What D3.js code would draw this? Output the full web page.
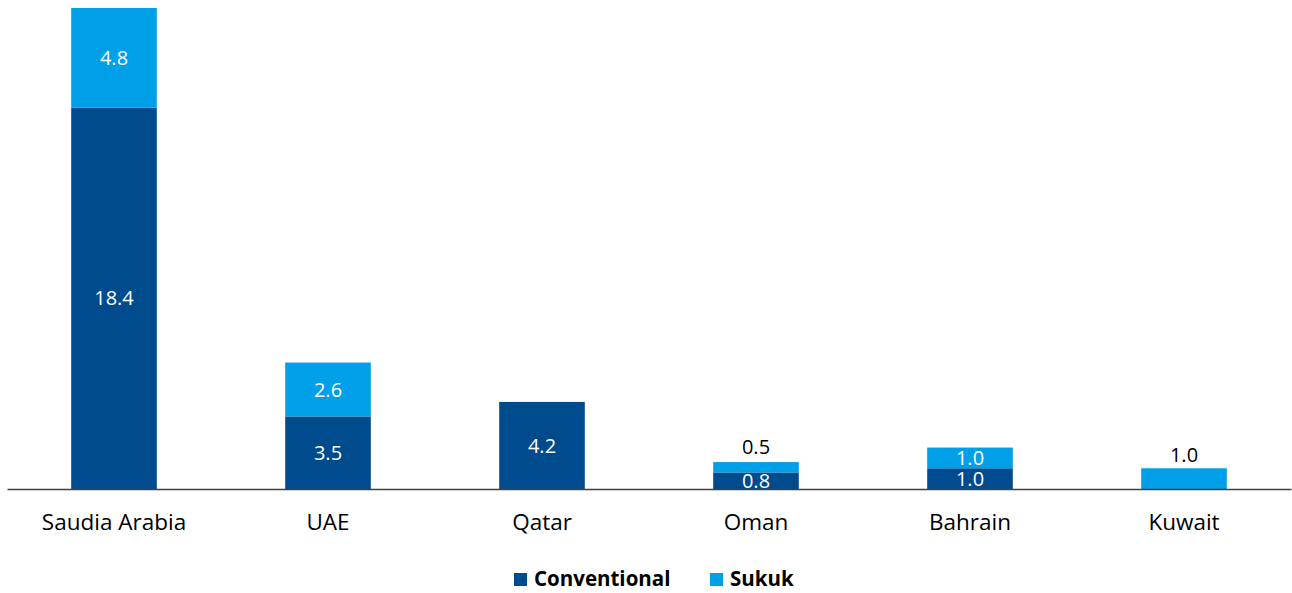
<!DOCTYPE html>
<html><head><meta charset="utf-8">
<script src="https://cdn.jsdelivr.net/npm/d3@7"></script>
<style>body{margin:0;background:#fff}svg{display:block}text{font-family:"Open Sans",sans-serif}</style>
</head><body><svg id="c" width="1292" height="593"></svg>
<script>
const categories = ["Saudia Arabia","UAE","Qatar","Oman","Bahrain","Kuwait"];
const conventional = [18.4, 3.5, 4.2, 0.8, 1.0, 0];
const sukuk = [4.8, 2.6, 0, 0.5, 1.0, 1.0];
const seriesNames = ["Conventional","Sukuk"];
const colors = ["#004B8D","#00A0E9"];

const svg = d3.select("#c");
const x = d3.scaleBand().domain(categories).range([7,1291]).paddingInner(0.6).paddingOuter(0.3);
const y = d3.scaleLinear().domain([0,23.2]).range([489,8]);

const data = categories.map((c,i)=>({cat:c, Conventional:conventional[i], Sukuk:sukuk[i]}));
const stack = d3.stack().keys(seriesNames)(data);

stack.forEach((layer,li)=>{
  svg.append("g").selectAll("rect").data(layer.filter(d=>d[1]-d[0]>0)).join("rect")
    .attr("x",d=>x(d.data.cat)).attr("width",x.bandwidth())
    .attr("y",d=>y(d[1])).attr("height",d=>y(d[0])-y(d[1]))
    .attr("fill",colors[li]);
});

stack.forEach((layer,li)=>{
  layer.forEach(d=>{
    const v = d[1]-d[0];
    if(v<=0) return;
    const h = y(d[0])-y(d[1]);
    let ty, col;
    if(h>=14){ ty=(y(d[0])+y(d[1]))/2; col="#fff"; }
    else { ty=y(d[1])-15; col="#000"; }
    if(d.data.cat==="Kuwait"){ ty=y(d[1])-13; col="#000"; }
    svg.append("text").attr("x",x(d.data.cat)+x.bandwidth()/2).attr("y",ty)
      .attr("dy","0.36em").attr("text-anchor","middle").attr("fill",col)
      .attr("font-size",20).text(v.toFixed(1));
  });
});

const ax = svg.append("g").attr("transform","translate(0,489)").call(d3.axisBottom(x).tickSize(0).tickPadding(25));
ax.select(".domain").attr("stroke","#404040").attr("stroke-width",1.5);
ax.selectAll("text").attr("font-size",22.5).attr("fill","#000").style("font-family","'Open Sans',sans-serif");

const leg = svg.append("g");
const lx = [514,710];
seriesNames.forEach((n,i)=>{
  leg.append("rect").attr("x",lx[i]).attr("y",573).attr("width",13).attr("height",13).attr("fill",colors[i]);
  leg.append("text").attr("x",lx[i]+20).attr("y",579).attr("dy","0.36em").attr("font-size",20.5).attr("font-weight","bold").attr("fill","#000").text(n);
});
</script></body></html>
